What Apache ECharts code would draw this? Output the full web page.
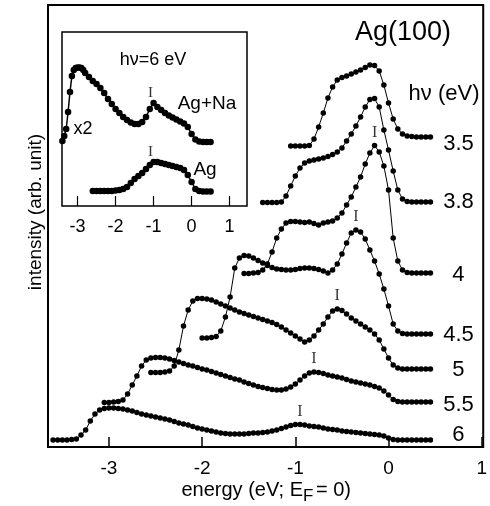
<!DOCTYPE html>
<html><head><meta charset="utf-8">
<script src="https://cdn.jsdelivr.net/npm/echarts@6/dist/echarts.min.js"></script>
<style>html,body{margin:0;padding:0;background:#fff}#c{width:490px;height:506px}</style>
</head><body><div id="c"></div>
<script>
// shared energy grid (eV, E_F = 0) for main panel
const energy = [-3.60,-3.55,-3.50,-3.45,-3.40,-3.35,-3.30,-3.25,-3.20,-3.15,-3.10,-3.05,
 -3.00,-2.95,-2.90,-2.85,-2.80,-2.75,-2.70,-2.65,-2.60,-2.55,-2.50,-2.45,
 -2.40,-2.35,-2.30,-2.25,-2.20,-2.15,-2.10,-2.05,-2.00,-1.95,-1.90,-1.85,
 -1.80,-1.75,-1.70,-1.65,-1.60,-1.55,-1.50,-1.45,-1.40,-1.35,-1.30,-1.25,
 -1.20,-1.15,-1.10,-1.05,-1.00,-0.95,-0.90,-0.85,-0.80,-0.75,-0.70,-0.65,
 -0.60,-0.55,-0.50,-0.45,-0.40,-0.35,-0.30,-0.25,-0.20,-0.15,-0.10,-0.05,
 0.00,0.05,0.10,0.15,0.20,0.25,0.30,0.35,0.40,0.45];

// photon energies (labels) and start energy of each spectrum
const hvLabels = ['3.5','3.8','4','4.5','5','5.5','6'];
const startE = [-1.05,-1.35,-1.55,-2.00,-2.55,-3.05,-3.60];

const hv35 = [301,301,301,301,301.5,308,320,334,349,360,367,369.5,
 371,373,375,377,379.5,382,381.5,376,362,344,328,318,
 313,311,310.5,310,310,310,310];
const hv38 = [244.5,244.5,244.5,244.5,245,251,261,271,279,284,286,287,
 288,289,290.5,292.5,295,299,306,313,321,330,340,347.5,
 348.5,340,317,297,276,257,248,245.5,245,245,245,245,245];
const hv4 = [173.5,173.5,174,174.5,177,183,195,209,218,224,225.5,225.5,
 225,224.5,225,223.5,222,224,225,226,229,234,242,250,
 260,270,283,294,301.5,295,281,257,209,186,177,174.5,
 174,174,174,174,174];
const hv45 = [109,109,109.5,110.5,116,130,150,179,189,191.5,191,189,
 186.5,184,181.5,179.5,178,177.5,177,177,177.5,178.5,179,179,
 178.5,177.5,176,174,177,183,193,204,214,217,215,208,
 197,186,173,158,141,123,116,113.5,113,113,113,113,113,113];
const hv5 = [74.5,74.5,74.5,75,76,81,97,121,137,146,148.5,148.5,
 148,147,145,143,141,139,137,135,133.5,132,130.5,129,
 127.5,126,124.5,122.5,120,117,114,111,108,105,107,111,
 117,123,130,136,138,136.5,133,129,126,123,120,117,
 113,107,98,89,82,79,78,78,78,78,78,78,78];
const hv55 = [44.5,44.5,45,45.5,47,53,62,71,81,87,89,89.5,
 89.5,89,88,86.5,85,83.5,82,81,79.5,78,77,75.5,
 74,72.5,71,69.5,68,67,65,63.5,62,60.5,59.5,58.5,
 57.5,57,57,58,60,63,67,71,74,75,74.5,73.5,
 72,71,70,69,67.5,66,65,64,63,62,60.5,59,
 56,52,47.5,45.5,45,45,45,45,45,45,45];
const hv6 = [7,7,7,7,7.5,8,12,17,26,33,37,38.5,
 39,39,38.5,38,37,36,34.5,33,32,31,30,29,
 28,27,25.5,24,23,22,20.5,19,18,17,16,15,
 14,13.5,13,13,13,13,13.5,14,14,14.5,15,16,
 17,18.5,20,21.5,22.5,22.5,22,21,20.5,20,19,18,
 17.5,17,16,15.5,15,14.5,14,13.5,13,12.5,12,11,
 9,7.5,7,7,7,7,7,7,7,7];
const spectra = [hv35,hv38,hv4,hv45,hv5,hv55,hv6];

// interface-state peak ("I") energies for hv = 4, 4.5, 5, 5.5, 6
const peakCurve = [2,3,4,5,6];
const peakE = [-0.15,-0.35,-0.55,-0.80,-0.95];

// inset: hv = 6 eV, Ag+Na (x2) and Ag
const naE = [-3.40,-3.35,-3.30,-3.25,-3.20,-3.15,-3.10,-3.05,-3.00,-2.95,-2.90,-2.85,-2.80,
 -2.70,-2.60,-2.50,-2.40,-2.30,-2.20,-2.10,-2.00,-1.90,-1.80,-1.70,-1.60,-1.50,-1.40,
 -1.30,-1.20,-1.10,-1.00,-0.90,-0.80,-0.70,-0.60,-0.50,-0.40,-0.30,-0.20,-0.10,
 0.00,0.10,0.20,0.30,0.40,0.50];
const naV = [65,70,77,94,114,130,136,138,138.5,138.5,138,136,133,
 129,125,122,118,113,107,102,97,93,89,86,83.5,82,82,
 84,89,97,103,99,96,93,90.5,88.5,86.5,84.5,82.5,79,
 72,66.5,64.5,64,64,64];
const agE = [-2.6,-2.5,-2.4,-2.3,-2.2,-2.1,-2.0,-1.9,-1.8,-1.7,-1.6,-1.5,-1.4,-1.3,-1.2,-1.1,
 -1.0,-0.9,-0.8,-0.7,-0.6,-0.5,-0.4,-0.3,-0.2,-0.1,0.0,0.1,0.2,0.3,0.4,0.5];
const agV = [15,15,15,15,15,15,15.5,16,17,19,23,27,30,33,37,41,
 44,44,43,42,41,40,39,38,36,31,24,17,15,14.5,14.5,14.5];
const insetPeakE = -1.0;

const ticks = [-3,-2,-1,0,1];
const labelDy = [7,0,1.5,1,0.5,3,-5];

const FONT = '"Liberation Sans", Arial, Helvetica, sans-serif';
const SERIF = '"Liberation Serif", "Times New Roman", serif';

function idxOf(e){ return energy.findIndex(v => Math.abs(v - e) < 1e-6); }
function pairs(start, vals){ const i0 = idxOf(start); return vals.map((v,i) => [energy[i0+i], v]); }

const series = [];
spectra.forEach((vals, k) => {
  series.push({
    type:'line', xAxisIndex:0, yAxisIndex:0, data: pairs(startE[k], vals),
    symbol:'circle', symbolSize:5.5, showAllSymbol:true, silent:true,
    lineStyle:{color:'#000', width:1}, itemStyle:{color:'#000'},
    endLabel:{show:true, formatter: hvLabels[k], color:'#000', fontFamily:FONT, fontSize:22,
      align:'center', verticalAlign:'middle', distance:0, offset:[28, labelDy[k]]}
  });
});
// "I" markers placed above the peak of each spectrum
const iData = peakCurve.map((c, j) => {
  const i = idxOf(peakE[j]) - idxOf(startE[c]);
  return [peakE[j], spectra[c][i]];
});
series.push({
  type:'scatter', xAxisIndex:0, yAxisIndex:0, data:iData, symbol:'circle', symbolSize:0.1,
  itemStyle:{color:'rgba(0,0,0,0)'}, silent:true,
  label:{show:true, position:'top', distance:5, formatter:'I', fontFamily:SERIF, fontSize:16, color:'#000'}
});
// inset
series.push({type:'line', xAxisIndex:1, yAxisIndex:1, data: naE.map((e,i)=>[e,naV[i]]),
  symbol:'circle', symbolSize:6.5, showAllSymbol:true, silent:true,
  lineStyle:{color:'#000', width:1.5}, itemStyle:{color:'#000'}});
series.push({type:'line', xAxisIndex:1, yAxisIndex:1, data: agE.map((e,i)=>[e,agV[i]]),
  symbol:'circle', symbolSize:6.5, showAllSymbol:true, silent:true,
  lineStyle:{color:'#000', width:1.5}, itemStyle:{color:'#000'}});
series.push({
  type:'scatter', xAxisIndex:1, yAxisIndex:1,
  data:[[insetPeakE, naV[naE.indexOf(insetPeakE)]],[insetPeakE, agV[agE.indexOf(insetPeakE)]]],
  symbol:'circle', symbolSize:0.1, itemStyle:{color:'rgba(0,0,0,0)'}, silent:true,
  label:{show:true, position:'top', distance:2, offset:[-3,0], formatter:'I', fontFamily:SERIF, fontSize:15, color:'#000'}
});

const chart = echarts.init(document.getElementById('c'), null, {renderer:'canvas'});
chart.setOption({
  animation:false,
  backgroundColor:'#fff',
  grid:[
    {left:48, top:5, right:3, bottom:59, show:true, borderColor:'#000', borderWidth:2, backgroundColor:'transparent'},
    {left:62, top:32, width:185, height:174, show:true, borderColor:'#000', borderWidth:1.5, backgroundColor:'#fff'}
  ],
  xAxis:[
    {type:'value', gridIndex:0, min:-3.654, max:1.016, splitLine:{show:false},
     axisLine:{show:false},
     axisTick:{show:true, inside:true, length:10, customValues:ticks, lineStyle:{color:'#000', width:1.5}},
     axisLabel:{show:true, customValues:ticks, margin:12, color:'#000', fontFamily:FONT, fontSize:19,
       formatter: v => String(v)}},
    {type:'value', gridIndex:1, min:-3.41, max:1.458, splitLine:{show:false},
     axisLine:{show:false},
     axisTick:{show:true, inside:true, length:10, customValues:ticks, lineStyle:{color:'#000', width:1.2}},
     axisLabel:{show:true, customValues:ticks, margin:12, color:'#000', fontFamily:FONT, fontSize:18,
       formatter: v => String(v)}}
  ],
  yAxis:[
    {type:'value', gridIndex:0, min:0, max:442, show:false},
    {type:'value', gridIndex:1, min:0, max:174, show:false}
  ],
  series: series,
  graphic:[
    {type:'text', x:403, y:33, style:{text:'Ag(100)', fontFamily:FONT, fontSize:27, fill:'#000', align:'center', verticalAlign:'middle'}},
    {type:'text', x:444, y:94, style:{text:'hν (eV)', fontFamily:FONT, fontSize:22, fill:'#000', align:'center', verticalAlign:'middle'}},
    {type:'text', x:36, y:212, rotation:Math.PI/2, style:{text:'intensity (arb. unit)', fontFamily:FONT, fontSize:19, fill:'#000', align:'center', verticalAlign:'middle'}},
    {type:'text', x:303, y:490, style:{text:'energy (eV; E', fontFamily:FONT, fontSize:20, fill:'#000', align:'right', verticalAlign:'middle'}},
    {type:'text', x:303, y:496, style:{text:'F', fontFamily:FONT, fontSize:17, fill:'#000', align:'left', verticalAlign:'middle'}},
    {type:'text', x:316, y:490, style:{text:'= 0)', fontFamily:FONT, fontSize:20, fill:'#000', align:'left', verticalAlign:'middle'}},
    {type:'text', x:153, y:60, style:{text:'hν=6 eV', fontFamily:FONT, fontSize:18, fill:'#000', align:'center', verticalAlign:'middle'}},
    {type:'text', x:207, y:104, style:{text:'Ag+Na', fontFamily:FONT, fontSize:19, fill:'#000', align:'center', verticalAlign:'middle'}},
    {type:'text', x:83, y:129, style:{text:'x2', fontFamily:FONT, fontSize:18, fill:'#000', align:'center', verticalAlign:'middle'}},
    {type:'text', x:205, y:170, style:{text:'Ag', fontFamily:FONT, fontSize:19, fill:'#000', align:'center', verticalAlign:'middle'}}
  ]
});
</script>
</body></html>
